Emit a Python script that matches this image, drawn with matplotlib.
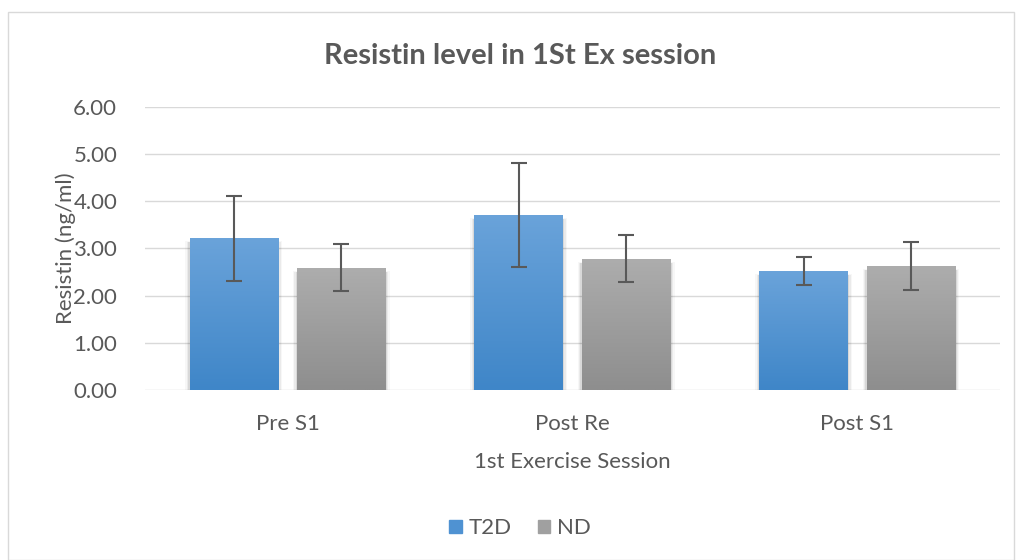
import matplotlib
matplotlib.use("Agg")
import matplotlib.pyplot as plt
import numpy as np
from matplotlib.patches import Rectangle

categories = ["Pre S1", "Post Re", "Post S1"]
t2d_values = [3.22, 3.71, 2.52]
t2d_err = [0.90, 1.10, 0.30]
nd_values = [2.59, 2.78, 2.63]
nd_err = [0.50, 0.50, 0.50]
series_names = ["T2D", "ND"]
yticks = [0, 1, 2, 3, 4, 5, 6]

plt.rcParams['font.family'] = ['Lato', 'DejaVu Sans']
txt = '#595959'

fig = plt.figure(figsize=(10.16, 5.6), dpi=100)
fig.patches.append(Rectangle((0.008, 0.0), 0.99, 0.978, transform=fig.transFigure,
                             fill=False, edgecolor='#d9d9d9', lw=1))
ax = fig.add_axes([0.1427, 0.3036, 0.8413, 0.5054])

x = np.arange(len(categories))
w = 0.31
gap = 0.067
off = (w + gap) / 2

def grad_bars(xs, vals, top, bot, label):
    bars = ax.bar(xs, vals, w, color=bot, label=label, zorder=2, edgecolor='none')
    for b in bars:
        x0, y0 = b.get_x(), b.get_y()
        # soft shadow
        for k, a in enumerate([0.07, 0.05, 0.03]):
            d = 0.005 * (k + 1)
            ax.add_patch(Rectangle((x0 - d, y0), b.get_width() + 2 * d, b.get_height() - 0.1 + d * 2,
                                   facecolor='#000000', alpha=a, edgecolor='none', zorder=1.5))
        grad = np.linspace(0, 1, 100).reshape(-1, 1)
        c1 = np.array(matplotlib.colors.to_rgb(top))
        c2 = np.array(matplotlib.colors.to_rgb(bot))
        img = c1[None, None, :] * (1 - grad[:, :, None]) + c2[None, None, :] * grad[:, :, None]
        im = ax.imshow(img, extent=[x0, x0 + b.get_width(), y0, y0 + b.get_height()],
                       aspect='auto', zorder=2.1, origin='upper')
        im.set_clip_path(b)
    return bars

grad_bars(x - off, t2d_values, '#6aa3da', '#3f86c8', series_names[0])
grad_bars(x + off, nd_values, '#adadad', '#8e8e8e', series_names[1])

ax.errorbar(x - off, t2d_values, yerr=t2d_err, fmt='none', ecolor='#595959',
            elinewidth=1.5, capsize=6, capthick=1.5, zorder=3)
ax.errorbar(x + off, nd_values, yerr=nd_err, fmt='none', ecolor='#595959',
            elinewidth=1.5, capsize=6, capthick=1.5, zorder=3)

ax.set_xlim(-0.5, 2.5)
ax.set_ylim(0, 6)
ax.set_yticks(yticks)
ax.set_yticklabels([f"{v:.2f}" for v in yticks], color=txt, fontsize=16)
ax.set_xticks(x)
ax.set_xticklabels(categories, color=txt, fontsize=16)
ax.tick_params(axis='y', length=0, pad=20)
ax.tick_params(axis='x', length=0, pad=17)
ax.grid(axis='y', color='#d9d9d9', lw=1, zorder=0)
ax.set_axisbelow(True)
for s in ax.spines.values():
    s.set_visible(False)

ax.set_ylabel("Resistin (ng/ml)", color=txt, fontsize=16, labelpad=-2)
ax.set_xlabel("1st Exercise Session", color=txt, fontsize=16, labelpad=13)
fig.text(0.512, 0.9, "Resistin level in 1St Ex session", ha='center', va='center',
         fontsize=21, fontweight='bold', color=txt)

leg = fig.legend(loc='center', bbox_to_anchor=(0.512, 0.057), ncol=2, frameon=False,
                 fontsize=16, handlelength=0.55, handleheight=0.55, handletextpad=0.3,
                 columnspacing=1.2, labelcolor=txt)
leg.legend_handles[0].set_color('#4f92d2')
leg.legend_handles[1].set_color('#a0a0a0')

fig.savefig("out.png", dpi=100)
